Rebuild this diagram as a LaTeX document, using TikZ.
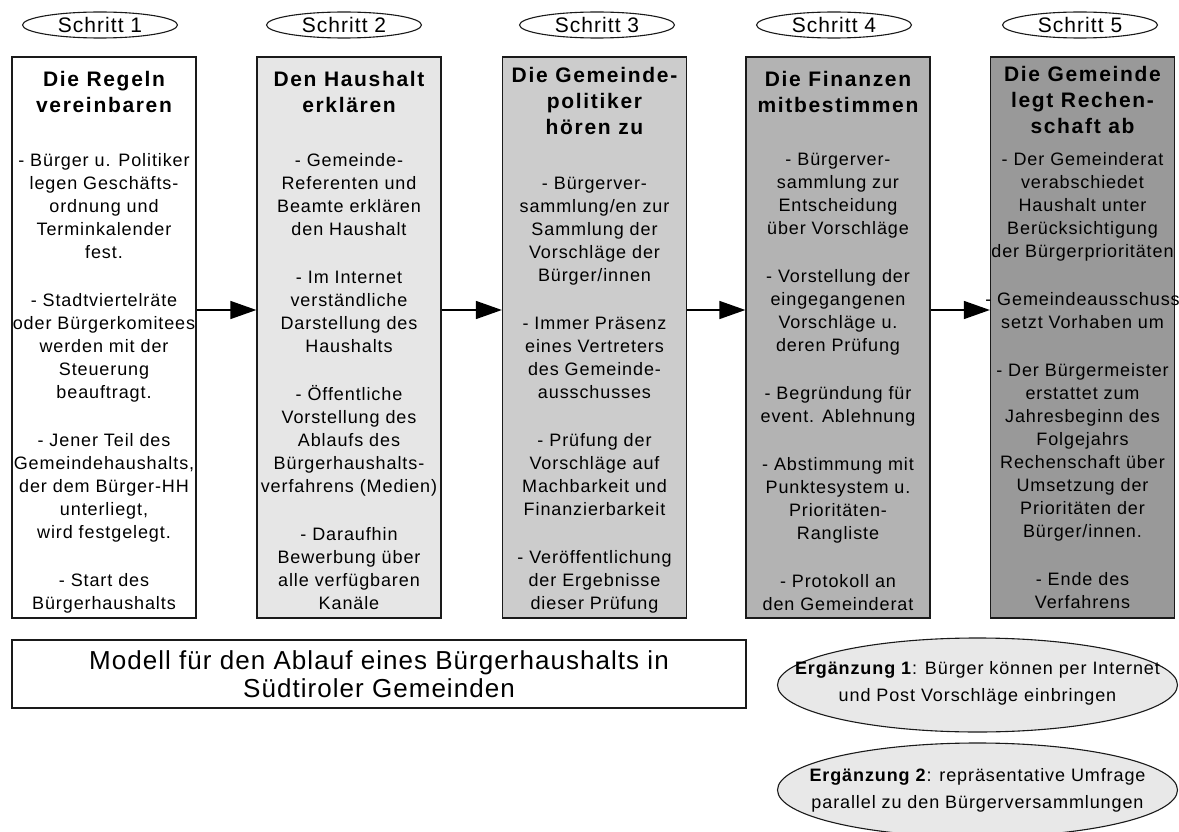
\documentclass[tikz,border=0pt]{standalone}
\usepackage{fontspec}
\setmainfont{Liberation Sans}
\newfontfamily\bodyf[LetterSpace=5]{Liberation Sans}
\newfontfamily\headf[LetterSpace=8]{Liberation Sans Bold}
\newfontfamily\titlef[LetterSpace=4]{Liberation Sans}
\usetikzlibrary{arrows.meta,shapes.geometric}
\definecolor{fillA}{HTML}{FFFFFF}
\definecolor{fillB}{HTML}{E6E6E6}
\definecolor{fillC}{HTML}{CCCCCC}
\definecolor{fillD}{HTML}{B3B3B3}
\definecolor{fillE}{HTML}{999999}
\definecolor{ergfill}{HTML}{E8E8E8}
\definecolor{edgecol}{HTML}{1A1A1A}
\newcommand{\hd}[1]{{\headf\fontsize{21pt}{23pt}\selectfont #1}}
\tikzset{
  stepbox/.style={draw=edgecol, line width=1.3pt, minimum width=184pt, minimum height=561pt, inner sep=0pt},
  boxtext/.style={anchor=north, align=center, inner sep=0pt, font=\bodyf\fontsize{18pt}{23pt}\selectfont},
  schritt/.style={ellipse, draw=edgecol, line width=1.1pt, fill=white, minimum width=155pt, minimum height=26pt, inner sep=0pt},
  schritttext/.style={inner sep=0pt, font=\bodyf\fontsize{21pt}{21pt}\selectfont},
  ergell/.style={ellipse, draw=edgecol, line width=1.1pt, fill=ergfill, minimum width=400pt, minimum height=94pt, inner sep=0pt},
  ergtext/.style={inner sep=0pt, align=center, font=\bodyf\fontsize{18pt}{27pt}\selectfont},
  titlebox/.style={draw=edgecol, line width=1.3pt, fill=white, minimum width=734pt, minimum height=68pt, inner sep=0pt, align=center, font=\titlef\fontsize{26pt}{28pt}\selectfont},
  arr/.style={draw=black, line width=1.5pt, -{Triangle[length=26pt,width=18pt]}}
}
\begin{document}
\begin{tikzpicture}[x=1pt,y=-1pt]
\useasboundingbox[fill=white] (0,0) rectangle (1179,832);

% step labels
\node[schritt] (s1) at (100,25) {};
\node[schritt] (s2) at (344,25) {};
\node[schritt] (s3) at (597,25) {};
\node[schritt] (s4) at (834,25) {};
\node[schritt] (s5) at (1080,25) {};
\node[schritttext] (l1) at (s1) {Schritt 1};
\node[schritttext] (l2) at (s2) {Schritt 2};
\node[schritttext] (l3) at (s3) {Schritt 3};
\node[schritttext] (l4) at (s4) {Schritt 4};
\node[schritttext] (l5) at (s5) {Schritt 5};

% boxes
\node[stepbox, fill=fillA] (b1) at (104,337.5) {};
\node[stepbox, fill=fillB] (b2) at (349,337.5) {};
\node[stepbox, fill=fillC] (b3) at (594.5,337.5) {};
\node[stepbox, fill=fillD] (b4) at (838,337.5) {};
\node[stepbox, fill=fillE] (b5) at (1082.5,337.5) {};

% arrows
\draw[arr] ([yshift=27.5pt]b1.east) -- ([yshift=27.5pt]b2.west);
\draw[arr] ([yshift=27.5pt]b2.east) -- ([yshift=27.5pt]b3.west);
\draw[arr] ([yshift=27.5pt]b3.east) -- ([yshift=27.5pt]b4.west);
\draw[arr] ([yshift=27.5pt]b4.east) -- ([yshift=27.5pt]b5.west);

% texts
\node[boxtext] (t1) at (104,71) {%
\hd{Die Regeln}\\[3pt]
\hd{vereinbaren}\\[31pt]
- Bürger u. Politiker\\
legen Geschäfts-\\
ordnung und\\
Terminkalender\\
fest.\\[25pt]
- Stadtviertelräte\\
oder Bürgerkomitees\\
werden mit der\\
Steuerung\\
beauftragt.\\[25pt]
- Jener Teil des\\
Gemeindehaushalts,\\
der dem Bürger-HH\\
unterliegt,\\
wird festgelegt.\\[25pt]
- Start des\\
Bürgerhaushalts};

\node[boxtext] (t2) at (349,71) {%
\hd{Den Haushalt}\\[3pt]
\hd{erklären}\\[31pt]
- Gemeinde-\\
Referenten und\\
Beamte erklären\\
den Haushalt\\[25pt]
- Im Internet\\
verständliche\\
Darstellung des\\
Haushalts\\[25pt]
- Öffentliche\\
Vorstellung des\\
Ablaufs des\\
Bürgerhaushalts-\\
verfahrens (Medien)\\[25pt]
- Daraufhin\\
Bewerbung über\\
alle verfügbaren\\
Kanäle};

\node[boxtext] (t3) at (594.5,67) {%
\hd{Die Gemeinde-}\\[3pt]
\hd{politiker}\\[3pt]
\hd{hören zu}\\[32pt]
- Bürgerver-\\
sammlung/en zur\\
Sammlung der\\
Vorschläge der\\
Bürger/innen\\[25pt]
- Immer Präsenz\\
eines Vertreters\\
des Gemeinde-\\
ausschusses\\[25pt]
- Prüfung der\\
Vorschläge auf\\
Machbarkeit und\\
Finanzierbarkeit\\[25pt]
- Veröffentlichung\\
der Ergebnisse\\
dieser Prüfung};

\node[boxtext] (t4) at (838,71) {%
\hd{Die Finanzen}\\[3pt]
\hd{mitbestimmen}\\[30pt]
- Bürgerver-\\
sammlung zur\\
Entscheidung\\
über Vorschläge\\[25pt]
- Vorstellung der\\
eingegangenen\\
Vorschläge u.\\
deren Prüfung\\[25pt]
- Begründung für\\
event. Ablehnung\\[25pt]
- Abstimmung mit\\
Punktesystem u.\\
Prioritäten-\\
Rangliste\\[25pt]
- Protokoll an\\
den Gemeinderat};

\node[boxtext] (t5) at (1082.5,66) {%
\hd{Die Gemeinde}\\[3pt]
\hd{legt Rechen-}\\[3pt]
\hd{schaft ab}\\[9pt]
- Der Gemeinderat\\
verabschiedet\\
Haushalt unter\\
Berücksichtigung\\
der Bürgerprioritäten\\[25pt]
- Gemeindeausschuss\\
setzt Vorhaben um\\[25pt]
- Der Bürgermeister\\
erstattet zum\\
Jahresbeginn des\\
Folgejahrs\\
Rechenschaft über\\
Umsetzung der\\
Prioritäten der\\
Bürger/innen.\\[25pt]
- Ende des\\
Verfahrens};

% title
\node[titlebox] (title) at (379,674) {Modell für den Ablauf eines Bürgerhaushalts in\\Südtiroler Gemeinden};

% supplements
\node[ergell] (e1) at (977.5,685) {};
\node[ergell] (e2) at (977.5,790) {};
\node[ergtext] (et1) at ([yshift=2pt]e1.center) {\textbf{Ergänzung 1}: Bürger können per Internet\\und Post Vorschläge einbringen};
\node[ergtext] (et2) at ([yshift=0pt]e2.center) {\textbf{Ergänzung 2}: repräsentative Umfrage\\parallel zu den Bürgerversammlungen};
\end{tikzpicture}
\end{document}
